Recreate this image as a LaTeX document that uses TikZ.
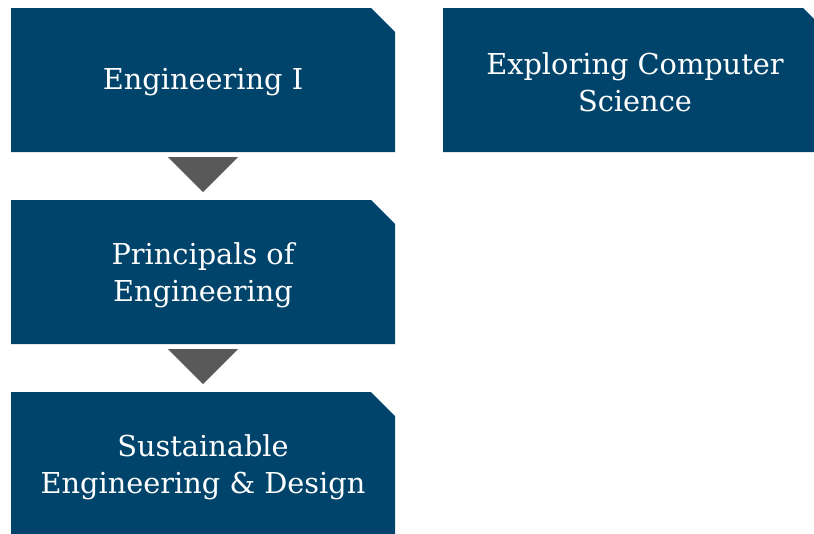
\documentclass[tikz,border=0pt]{standalone}
\usepackage{fontspec}
\setmainfont{DejaVu Serif}
\definecolor{boxblue}{RGB}{1,68,107}
\definecolor{arrowgrey}{RGB}{89,89,89}
\begin{document}
\begin{tikzpicture}[x=1pt,y=-1pt,
  cut/.style={fill=boxblue,draw=none},
  lbl/.style={text=white,align=center,font=\fontsize{28.8}{37}\selectfont},
  tri/.style={fill=arrowgrey,draw=none}]
\useasboundingbox (0,0) rectangle (814,533);
\begin{scope}
\clip (0,0) rectangle (814,533);
% box shapes
\fill[cut] (11,8) -- (371,8) -- (395,32) -- (395,152) -- (11,152) -- cycle;
\fill[cut] (11,200) -- (371,200) -- (395,224) -- (395,344) -- (11,344) -- cycle;
\fill[cut] (11,392) -- (371,392) -- (395,416) -- (395,536) -- (11,536) -- cycle;
\fill[cut] (443,8) -- (803,8) -- (827,32) -- (827,152) -- (443,152) -- cycle;
\end{scope}
\node[lbl] (e1) at (203,82) {Engineering I};
\node[lbl] (pe) at (203,275) {Principals of\\Engineering};
\node[lbl] (sd) at (203,467) {Sustainable\\Engineering \& Design};
\node[lbl] (cs) at (635,82) {Exploring Computer\\Science};
\fill[tri] (168,157) -- (238,157) -- (203,192) -- cycle;
\fill[tri] (168,349) -- (238,349) -- (203,384) -- cycle;
\end{tikzpicture}
\end{document}
